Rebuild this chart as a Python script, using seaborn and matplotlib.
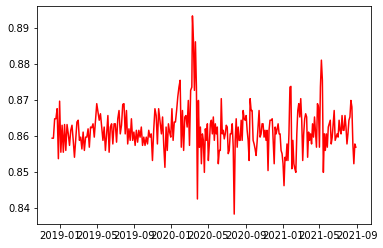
import matplotlib
matplotlib.use("Agg")
import matplotlib.pyplot as plt
import matplotlib.dates as mdates
import numpy as np
import pandas as pd
import seaborn as sns

# Segment 1: 2018-12-05 .. 2019-11-24
seg1_start, seg1_end = "2018-12-05", "2019-11-24"
seg1_values = [
    0.8593, 0.8593, 0.8647, 0.8647, 0.8675, 0.8536, 0.8696, 0.8554, 0.8629, 0.8554,
    0.8631, 0.8559, 0.8631, 0.8605, 0.8573, 0.8615, 0.8629, 0.8587, 0.8540, 0.8587,
    0.8638, 0.8643, 0.8587, 0.8596, 0.8563, 0.8610, 0.8559, 0.8596, 0.8596, 0.8619,
    0.8568, 0.8624, 0.8622, 0.8633, 0.8596, 0.8643, 0.8689, 0.8666, 0.8643, 0.8661,
    0.8624, 0.8587, 0.8624, 0.8559, 0.8605, 0.8656, 0.8554, 0.8624, 0.8633, 0.8577,
    0.8633, 0.8633, 0.8582, 0.8647, 0.8670, 0.8605, 0.8629, 0.8687, 0.8689, 0.8605,
    0.8670, 0.8577, 0.8619, 0.8587, 0.8647, 0.8587, 0.8610, 0.8573, 0.8615, 0.8582,
    0.8615, 0.8596, 0.8624, 0.8573, 0.8596, 0.8573, 0.8596, 0.8577, 0.8615, 0.8596,
    0.8605, 0.8531, 0.8615, 0.8675, 0.8656, 0.8577, 0.8675, 0.8643,
]

# Segment 2a: 2019-11-29 .. 2020-03-08
seg2a_start, seg2a_end = "2019-11-29", "2020-03-08"
seg2a_values = [
    0.8605, 0.8652, 0.8573, 0.8512, 0.8624, 0.8559, 0.8633, 0.8610, 0.8596, 0.8675,
    0.8587, 0.8638, 0.8638, 0.8670, 0.8708, 0.8735, 0.8754, 0.8568, 0.8670, 0.8559,
    0.8652, 0.8656, 0.8624, 0.8698, 0.8573, 0.8726, 0.8735,
]

# Segment 2b: 2020-03-10 .. 2020-11-20
seg2b_start, seg2b_end = "2020-03-10", "2020-11-20"
seg2b_values = [
    0.8933, 0.8866, 0.8726, 0.8861, 0.8735, 0.8424, 0.8698, 0.8568, 0.8624, 0.8522,
    0.8605, 0.8587, 0.8498, 0.8619, 0.8587, 0.8633, 0.8531, 0.8577, 0.8633, 0.8643,
    0.8605, 0.8652, 0.8587, 0.8633, 0.8605, 0.8624, 0.8522, 0.8559, 0.8559, 0.8703,
    0.8605, 0.8615, 0.8591, 0.8605, 0.8629, 0.8624, 0.8550, 0.8559, 0.8605, 0.8605,
    0.8633, 0.8568, 0.8382, 0.8587, 0.8647, 0.8568, 0.8624, 0.8587, 0.8587, 0.8643,
    0.8587, 0.8670, 0.8647, 0.8643, 0.8656, 0.8615, 0.8587, 0.8531, 0.8703, 0.8670,
    0.8670, 0.8587, 0.8577, 0.8563, 0.8545, 0.8582, 0.8624, 0.8670, 0.8596, 0.8605,
    0.8633, 0.8633, 0.8596, 0.8615, 0.8587, 0.8615, 0.8503, 0.8615, 0.8643,
]

# Segment 3: 2020-11-24 .. 2021-08-29
seg3_start, seg3_end = "2020-11-24", "2021-08-29"
seg3_values = [
    0.8643, 0.8647, 0.8587, 0.8522, 0.8624, 0.8605, 0.8619, 0.8633, 0.8605, 0.8605,
    0.8559, 0.8550, 0.8522, 0.8461, 0.8540, 0.8531, 0.8577, 0.8531, 0.8605, 0.8735,
    0.8737, 0.8508, 0.8587, 0.8522, 0.8508, 0.8498, 0.8605, 0.8670, 0.8689, 0.8652,
    0.8703, 0.8643, 0.8531, 0.8605, 0.8647, 0.8661, 0.8652, 0.8540, 0.8610, 0.8587,
    0.8605, 0.8577, 0.8633, 0.8596, 0.8652, 0.8610, 0.8568, 0.8689, 0.8680, 0.8568,
    0.8735, 0.8810, 0.8754, 0.8498, 0.8605, 0.8559, 0.8605, 0.8568, 0.8624, 0.8633,
    0.8643, 0.8577, 0.8596, 0.8633, 0.8670, 0.8587, 0.8596, 0.8605, 0.8596, 0.8643,
    0.8615, 0.8605, 0.8656, 0.8615, 0.8615, 0.8656, 0.8624, 0.8577, 0.8605, 0.8643,
    0.8652, 0.8698, 0.8680, 0.8577, 0.8522, 0.8577, 0.8568,
]

segments = [
    (seg1_start, seg1_end, seg1_values),
    (seg2a_start, seg2a_end, seg2a_values),
    (seg2b_start, seg2b_end, seg2b_values),
    (seg3_start, seg3_end, seg3_values),
]

frames = []
for s, e, vals in segments:
    d = pd.date_range(s, e, periods=len(vals))
    frames.append(pd.DataFrame({"date": d, "value": vals}))
df = pd.concat(frames, ignore_index=True)

fig = plt.figure(figsize=(383 / 72, 248 / 72), dpi=72)
ax = fig.add_axes([37 / 383, 1 - 224 / 248, (371 - 37) / 383, (224 - 6) / 248])
sns.lineplot(data=df, x="date", y="value", color="red", linewidth=1.5, ax=ax,
             estimator=None, sort=False)
ax.set_xlabel("")
ax.set_ylabel("")
ax.xaxis.set_major_locator(mdates.MonthLocator(bymonth=[1, 5, 9]))
ax.xaxis.set_major_formatter(mdates.DateFormatter("%Y-%m"))
ax.tick_params(labelsize=10)
fig.savefig("out.png", dpi=72)
